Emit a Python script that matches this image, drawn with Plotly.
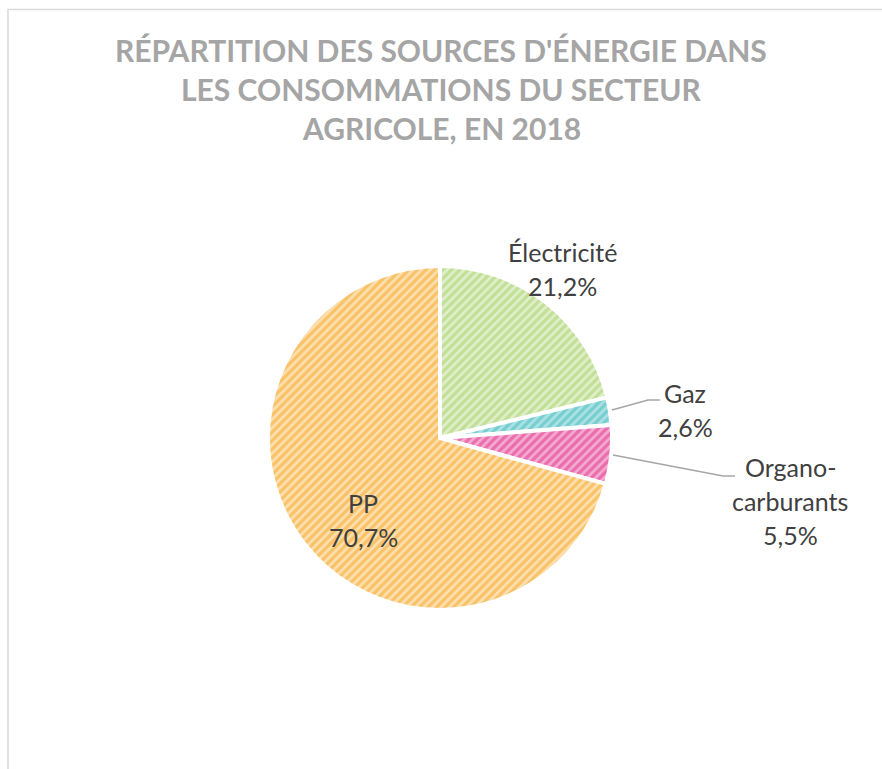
import plotly.graph_objects as go

# data
sources = ["Électricité", "Gaz", "Organo-carburants", "PP"]
parts = [21.2, 2.6, 5.5, 70.7]
label_lines = [["Électricité"], ["Gaz"], ["Organo-", "carburants"], ["PP"]]
title_lines = ["RÉPARTITION DES SOURCES D'ÉNERGIE DANS",
               "LES CONSOMMATIONS DU SECTEUR",
               "AGRICOLE, EN 2018"]

bg_colors = ["#e0efca", "#ade2e3", "#f4acd1", "#fde0b2"]
fg_colors = ["#a3d064", "#40b9be", "#e12d89", "#f5a31c"]

W, H = 882, 769
cx, cy, r = 440, 438, 172


def px(x, y):
    return x / W, 1 - y / H


fig = go.Figure()
fig.add_trace(go.Pie(
    labels=sources,
    values=parts,
    sort=False,
    direction="clockwise",
    rotation=0,
    textinfo="none",
    hoverinfo="label+percent",
    marker=dict(
        colors=bg_colors,
        line=dict(color="white", width=4),
        pattern=dict(shape="/", fgcolor=fg_colors, bgcolor=bg_colors,
                     size=6, solidity=0.55, fillmode="overlay"),
    ),
    domain=dict(x=[(cx - r) / W, (cx + r) / W],
                y=[(H - cy - r) / H, (H - cy + r) / H]),
    showlegend=False,
))

# title, one annotation per line so the spacing matches
for i, t in enumerate(title_lines):
    x, y = px(441, 50 + i * 39)
    fig.add_annotation(x=x, y=y, xref="paper", yref="paper", text=f"<b>{t}</b>",
                       showarrow=False, xanchor="center", yanchor="middle",
                       font=dict(family="Lato", size=30, color="#a5a5a5"))

# label positions (pixels from top-left) for each slice's text block
label_pos = [(562, 252), (685, 393), (790, 467), (363, 503)]
line_gap = 34

for lines, v, (lx, ly) in zip(label_lines, parts, label_pos):
    texts = lines + [f"{v:.1f}".replace(".", ",") + "%"]
    for i, t in enumerate(texts):
        x, y = px(lx, ly + i * line_gap)
        fig.add_annotation(x=x, y=y, xref="paper", yref="paper", text=t,
                           showarrow=False, xanchor="center", yanchor="middle",
                           font=dict(family="Lato", size=25, color="#404040"))

# leader lines for the small slices
leaders = [[(612, 410), (648, 400), (660, 400)],
           [(613, 455), (723, 476), (735, 476)]]
for pts in leaders:
    path = "M " + " L ".join(f"{x / W} {1 - y / H}" for x, y in pts)
    fig.add_shape(type="path", path=path, xref="paper", yref="paper",
                  line=dict(color="#a6a6a6", width=1.5))

# chart area border (only left and top edges visible in the picture)
fig.add_shape(type="rect", xref="paper", yref="paper",
              x0=8 / W, y0=-0.05, x1=1.05, y1=1 - 9.5 / H,
              line=dict(color="#d9d9d9", width=1.5))

fig.update_layout(
    width=W, height=H,
    margin=dict(l=0, r=0, t=0, b=0),
    paper_bgcolor="white",
    plot_bgcolor="white",
)

fig.write_html("out.html", config={"displayModeBar": False},
               post_script="document.body.style.margin='0px';")
